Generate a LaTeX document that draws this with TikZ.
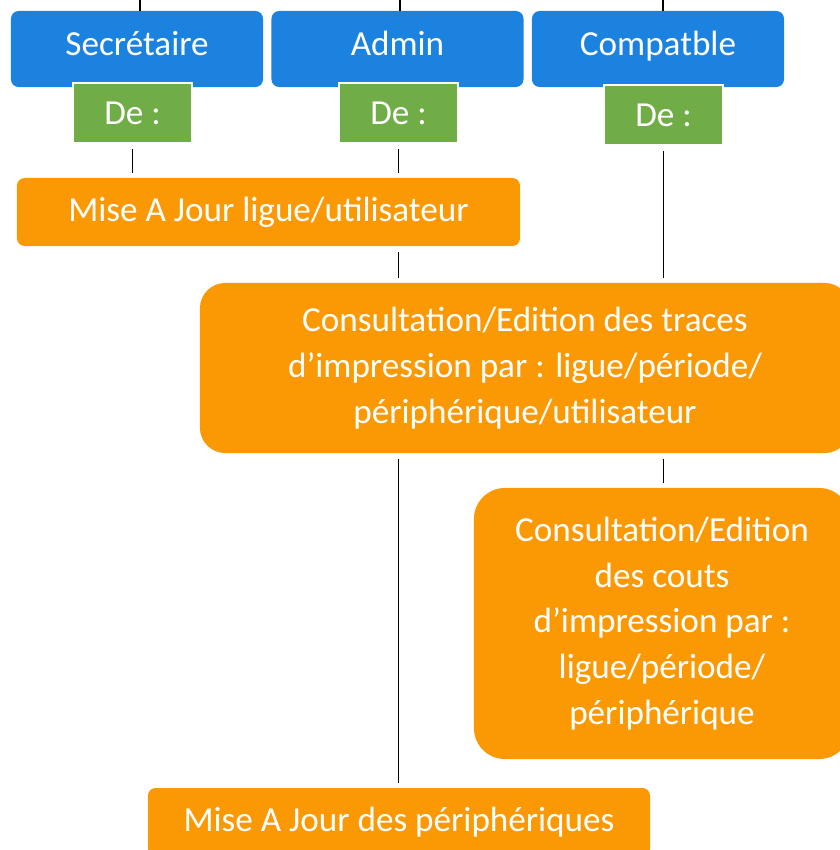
\documentclass[tikz,border=0pt]{standalone}
\usepackage{fontspec}
\setmainfont{Carlito}
\definecolor{roleblue}{RGB}{28,130,224}
\definecolor{degreen}{RGB}{112,173,71}
\definecolor{taskorange}{RGB}{251,153,5}

\begin{document}
\begin{tikzpicture}[x=0.025cm,y=-0.025cm,
  box/.style={text=white,inner sep=0pt,align=center,
    font=\fontsize{25}{32.5}\selectfont},
  role/.style={box,fill=roleblue,rounded corners=5.5pt,
    text height=17pt,text depth=7.2pt,
    minimum width=6.3cm,minimum height=1.9cm},
  de/.style={box,fill=degreen,draw=white,line width=1.4pt,
    minimum width=2.975cm,minimum height=1.5cm},
  task/.style={box,fill=taskorange,rounded corners=5.5pt},
  link/.style={line width=1.1pt,shorten <=3.8pt,shorten >=3.6pt}]
\useasboundingbox (0,0) rectangle (840,850);
\clip (0,0) rectangle (840,850);

% profils
\foreach \n/\x/\t in {sec/137/Secrétaire,adm/397.5/Admin,cpt/658/Compatble} {
\node[role] (\n) at (\x,49) {\t};
}
\coordinate (t1) at (140,0);
\coordinate (t2) at (400,0);
\coordinate (t3) at (663,0);
\foreach \i/\n in {1/sec,2/adm,3/cpt} {
\draw[line width=1.1pt] (t\i) -- (t\i |- \n.north);
}

\node[de] (de1) at (132.5,113) {De :};
\node[de] (de2) at (398.5,113) {De :};
\node[de] (de3) at (663.5,115) {De :};

% taches
\node[task,minimum width=12.575cm,minimum height=1.7cm] (maj1) at (268.5,212)
  {Mise A Jour ligue/utilisateur};
\node[task,rounded corners=18pt,minimum width=16.25cm,minimum height=4.25cm] (cons) at (525,368)
  {Consultation/Edition des traces\\d’impression par : ligue/période/\\périphérique/utilisateur};
\node[task,rounded corners=22pt,minimum width=9.4cm,minimum height=6.775cm] (couts) at (662,623.5)
  {Consultation/Edition\\des couts\\d’impression par :\\ligue/période/\\périphérique};
\node[task,minimum width=12.55cm,minimum height=1.7cm] (maj2) at (399,822)
  {Mise A Jour des périphériques};

% liens
\draw[link] (de1.south) -- (de1.south |- maj1.north);
\draw[link] (de2.south) -- (de2.south |- maj1.north);
\draw[link] (maj1.south -| de2) -- (cons.north -| de2);
\draw[link] (de3.south) -- (de3.south |- cons.north);
\draw[link] (cons.south -| de2) -- (maj2.north -| de2);
\draw[link] (cons.south -| de3) -- (couts.north -| de3);
\end{tikzpicture}
\end{document}
